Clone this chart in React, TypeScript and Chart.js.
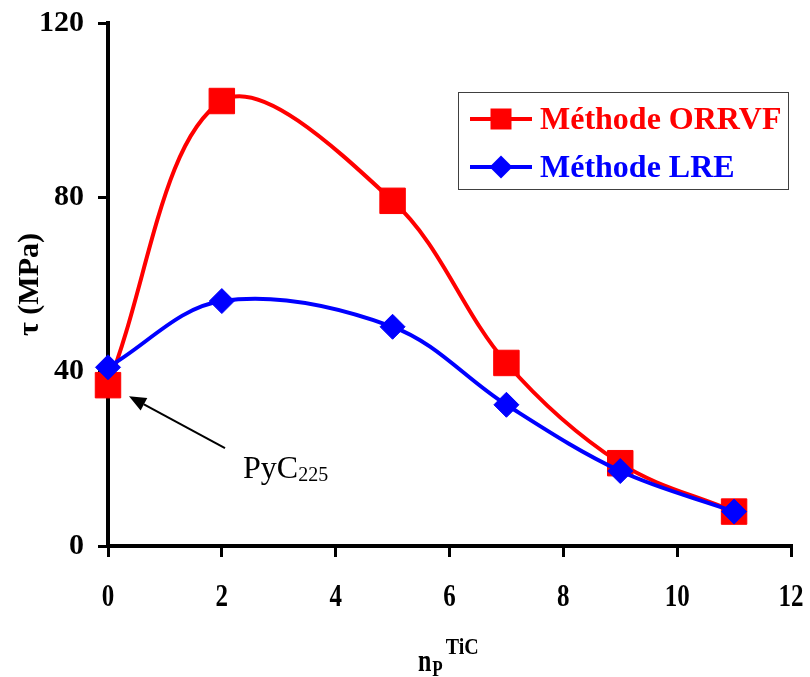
import React, { useEffect, useRef } from "react";
import { Chart, registerables } from "chart.js";

Chart.register(...registerables);

const xValues = [0, 2, 5, 7, 9, 11];
const orrvfValues = [36.9, 102.1, 79.2, 42, 19, 7.9];
const lreValues = [41, 56.2, 50.3, 32.4, 17.2, 7.9];
const xTicks = [0, 2, 4, 6, 8, 10, 12];
const seriesLabels = ["Méthode ORRVF", "Méthode LRE"];
const seriesColors = ["#ff0000", "#0000ff"];
const yTitleSymbol = "τ";
const yTitleText = " (MPa)";
const xTitleMain = "n";
const xTitleSub = "P";
const xTitleSup = "TiC";
const noteMain = "PyC";
const noteSub = "225";

const SERIF = '"Liberation Serif", "Times New Roman", serif';

const overlayPlugin = {
  id: "overlay",
  afterDraw(chart: any) {
    const ctx = chart.ctx as CanvasRenderingContext2D;
    const xs = chart.scales.x;
    const ys = chart.scales.y;
    const area = chart.chartArea;
    ctx.save();
    ctx.fillStyle = "#000";

    // x tick labels (vertically stretched, as in the reference)
    ctx.font = `bold 25px ${SERIF}`;
    ctx.textAlign = "center";
    ctx.textBaseline = "alphabetic";
    xTicks.forEach((v) => {
      const px = xs.getPixelForValue(v);
      ctx.save();
      ctx.translate(px, area.bottom + 60);
      ctx.scale(1, 1.25);
      ctx.fillText(String(v), 0, 0);
      ctx.restore();
    });

    // y title
    ctx.save();
    ctx.translate(28, (area.top + area.bottom) / 2);
    ctx.rotate(-Math.PI / 2);
    ctx.textAlign = "left";
    const symFont = `bold 30px ${SERIF}`;
    const txtFont = `bold 30px ${SERIF}`;
    ctx.font = symFont;
    const w1 = ctx.measureText(yTitleSymbol).width;
    ctx.font = txtFont;
    const w2 = ctx.measureText(yTitleText).width;
    const start = -(w1 + w2) / 2;
    ctx.font = symFont;
    ctx.fillText(yTitleSymbol, start, 10);
    ctx.font = txtFont;
    ctx.fillText(yTitleText, start + w1, 10);
    ctx.restore();

    // x title
    ctx.textAlign = "left";
    const tx = 418;
    const tb = area.bottom + 125;
    ctx.save();
    ctx.translate(tx, tb);
    ctx.scale(1, 1.3);
    ctx.font = `bold 24px ${SERIF}`;
    ctx.fillText(xTitleMain, 0, 0);
    const wn = ctx.measureText(xTitleMain).width;
    ctx.font = `bold 17px ${SERIF}`;
    ctx.fillText(xTitleSub, wn + 1, 4);
    const wp = ctx.measureText(xTitleSub).width;
    ctx.restore();
    ctx.save();
    ctx.translate(tx + wn + wp + 4, tb - 17);
    ctx.scale(1, 1.2);
    ctx.font = `bold 20px ${SERIF}`;
    ctx.fillText(xTitleSup, 0, 0);
    ctx.restore();

    // legend
    const lx = 458.5, ly = 92.5, lw = 330, lh = 97;
    ctx.strokeStyle = "#404040";
    ctx.lineWidth = 1;
    ctx.strokeRect(lx, ly, lw, lh);
    const rows = [119, 167];
    chart.data.datasets.forEach((ds: any, i: number) => {
      const y = rows[i];
      ctx.strokeStyle = ds.borderColor;
      ctx.lineWidth = 4;
      ctx.beginPath();
      ctx.moveTo(470, y);
      ctx.lineTo(532, y);
      ctx.stroke();
      ctx.fillStyle = ds.borderColor;
      ctx.beginPath();
      if (ds.pointStyle === "rect") {
        ctx.rect(490.5, y - 10.5, 21, 21);
      } else {
        ctx.moveTo(501 - 11.5, y);
        ctx.lineTo(501, y - 11.5);
        ctx.lineTo(501 + 11.5, y);
        ctx.lineTo(501, y + 11.5);
        ctx.closePath();
      }
      ctx.fill();
      ctx.font = `bold 32px ${SERIF}`;
      ctx.fillText(ds.label, 540, y + 10);
    });

    // annotation arrow pointing at the first ORRVF point
    const tipX = xs.getPixelForValue(xValues[0]) + 21;
    const tipY = ys.getPixelForValue(orrvfValues[0]) + 11;
    const tailX = tipX + 96;
    const tailY = tipY + 52;
    const ang = Math.atan2(tailY - tipY, tailX - tipX);
    const hl = 17, hw = 7;
    const bx = tipX + Math.cos(ang) * hl;
    const by = tipY + Math.sin(ang) * hl;
    ctx.strokeStyle = "#000";
    ctx.fillStyle = "#000";
    ctx.lineWidth = 2;
    ctx.beginPath();
    ctx.moveTo(tailX, tailY);
    ctx.lineTo(bx, by);
    ctx.stroke();
    ctx.beginPath();
    ctx.moveTo(tipX, tipY);
    ctx.lineTo(bx + Math.sin(ang) * hw, by - Math.cos(ang) * hw);
    ctx.lineTo(bx - Math.sin(ang) * hw, by + Math.cos(ang) * hw);
    ctx.closePath();
    ctx.fill();

    ctx.font = `32px ${SERIF}`;
    ctx.fillText(noteMain, tipX + 114, tipY + 82);
    const wm = ctx.measureText(noteMain).width;
    ctx.font = `20px ${SERIF}`;
    ctx.fillText(noteSub, tipX + 114 + wm, tipY + 85);

    ctx.restore();
  },
};

export default function App() {
  const ref = useRef<HTMLCanvasElement | null>(null);

  useEffect(() => {
    if (!ref.current) return;
    const axisGrid = {
      display: true,
      drawOnChartArea: false,
      drawTicks: true,
      color: "#000",
      lineWidth: 3,
    };
    const chart = new Chart(ref.current, {
      type: "line",
      data: {
        datasets: [
          {
            label: seriesLabels[0],
            data: xValues.map((x, i) => ({ x, y: orrvfValues[i] })),
            borderColor: seriesColors[0],
            backgroundColor: seriesColors[0],
            pointBackgroundColor: seriesColors[0],
            pointBorderColor: seriesColors[0],
            pointBorderWidth: 1,
            pointStyle: "rect",
            pointRadius: 18,
            borderWidth: 4,
            tension: 0.35,
            fill: false,
            clip: false,
            order: 1,
          },
          {
            label: seriesLabels[1],
            data: xValues.map((x, i) => ({ x, y: lreValues[i] })),
            borderColor: seriesColors[1],
            backgroundColor: seriesColors[1],
            pointBackgroundColor: seriesColors[1],
            pointBorderColor: seriesColors[1],
            pointBorderWidth: 1,
            pointStyle: "rectRot",
            pointRadius: 12.5,
            borderWidth: 4,
            tension: 0.35,
            fill: false,
            clip: false,
            order: 0,
          },
        ],
      },
      options: {
        responsive: false,
        animation: false,
        layout: { padding: { top: 23, right: 12, left: 0, bottom: 0 } },
        plugins: { legend: { display: false }, tooltip: { enabled: false } },
        scales: {
          x: {
            type: "linear",
            min: 0,
            max: 12,
            afterFit: (s: any) => {
              s.height = 131;
              s.paddingLeft = 0;
              s.paddingRight = 0;
            },
            ticks: { display: false, stepSize: 2 },
            grid: { ...axisGrid, tickLength: 11 },
            border: { display: true, color: "#000", width: 4 },
          },
          y: {
            type: "linear",
            min: 0,
            max: 120,
            afterFit: (s: any) => {
              s.width = 108;
              s.paddingTop = 0;
              s.paddingBottom = 0;
            },
            ticks: {
              stepSize: 40,
              color: "#000",
              padding: 14,
              font: { family: SERIF, size: 30, weight: "bold" },
            },
            grid: { ...axisGrid, tickLength: 10 },
            border: { display: true, color: "#000", width: 4 },
          },
        },
      } as any,
      plugins: [overlayPlugin],
    });
    return () => chart.destroy();
  }, []);

  return (
    <div style={{ position: "absolute", left: 0, top: 0, width: 810, height: 677, background: "#fff" }}>
      <canvas ref={ref} width={810} height={677} />
    </div>
  );
}
